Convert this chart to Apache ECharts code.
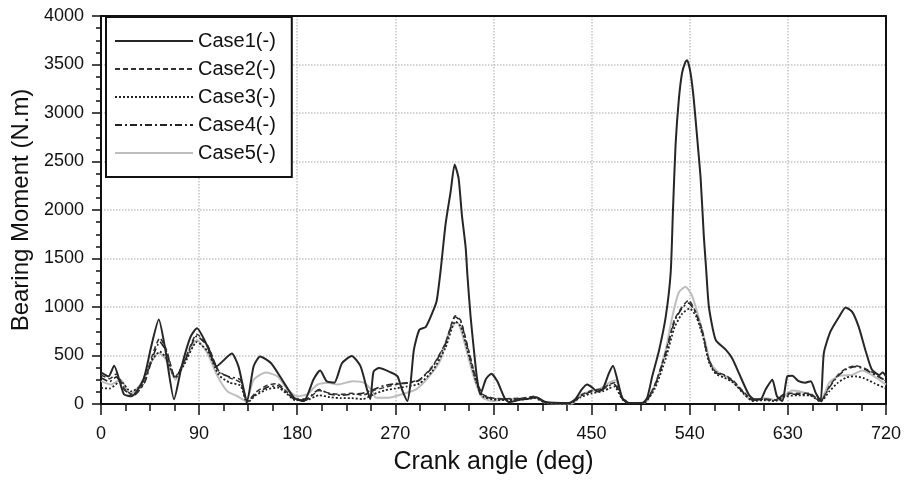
<!DOCTYPE html>
<html>
<head>
    <meta charset="utf-8">
    <title>Bearing Moment</title>
    <script src="https://cdn.jsdelivr.net/npm/echarts@6/dist/echarts.min.js"></script>
    <style>
        html, body { margin: 0; padding: 0; background: #fff; }
        #chart { width: 904px; height: 480px; }
    </style>
</head>
<body>
<div id="chart"></div>
<script>
    // [crank angle (deg), bearing moment (N.m)]
    var case1 = [[0,327],[7,285],[12,395],[21,100],[28,80],[39,255],[46,590],[53,870],[59,560],[67,50],[74,390],[82,690],[88,780],[97,610],[106,390],[120,520],[126,390],[134,30],[140,390],[146,490],[156,420],[165,270],[177,65],[186,30],[195,255],[201,345],[207,235],[214,220],[221,420],[230,495],[238,390],[244,150],[247,50],[250,335],[255,370],[266,325],[272,285],[276,150],[281,30],[284,220],[287,560],[292,765],[298,795],[305,970],[308,1070],[311.5,1375],[316,1850],[320.7,2190],[324.4,2470],[328,2325],[331,1950],[334.5,1610],[336,1340],[339,900],[342,560],[345,255],[348,100],[353,255],[358,313],[363.5,235],[370,65],[374,20],[385,45],[392,55],[399,70],[408,20],[429,10],[435,50],[441,150],[446,200],[450.6,170],[455,130],[460,150],[466,320],[469.6,395],[473.6,250],[478,65],[483,10],[496.5,10],[501,65],[505.6,285],[512,560],[518,900],[522.5,1350],[524.6,1990],[527,2670],[530,3140],[533,3415],[536,3525],[537.6,3545],[540.7,3415],[543.7,3140],[546.9,2735],[550,2325],[553,1715],[555,1400],[557.6,1000],[563.8,660],[573,560],[579,470],[585,320],[594,100],[599,50],[605,50],[609.6,150],[615.7,250],[620,80],[625,30],[629.5,285],[634,290],[640,235],[646,220],[651,235],[655.5,115],[660,30],[663,525],[669,745],[677,900],[683,995],[689,950],[695,795],[701,560],[707,355],[714,300],[717,325],[720,285]];
    var case2 = [[0,300],[8,260],[14,310],[22,150],[30,90],[40,230],[47,500],[54,680],[60,560],[68,280],[76,430],[88,720],[98,600],[108,340],[118,270],[128,220],[134,20],[142,120],[152,190],[162,210],[170,130],[178,50],[188,40],[200,140],[210,110],[220,100],[230,110],[240,90],[250,140],[260,170],[270,200],[280,220],[292,250],[304,390],[316,630],[325,910],[330,860],[337,560],[344,260],[350,100],[360,60],[372,55],[385,60],[398,80],[408,15],[430,10],[440,90],[450,140],[460,160],[466,200],[471,220],[478,70],[485,10],[498,15],[508,200],[518,540],[526,870],[533,1000],[539,1070],[545,960],[551,780],[557,480],[563,340],[572,300],[580,240],[590,120],[598,40],[608,50],[618,40],[628,110],[640,110],[650,110],[660,30],[668,180],[676,300],[684,370],[692,395],[700,370],[710,310],[720,235]];
    var case3 = [[0,165],[8,160],[18,235],[27,130],[36,180],[47,455],[54,540],[60,470],[68,270],[76,400],[88,640],[98,540],[108,300],[118,220],[128,190],[134,10],[142,90],[152,150],[162,170],[170,110],[178,40],[188,40],[200,90],[210,70],[220,60],[230,60],[240,50],[250,100],[260,140],[270,160],[280,180],[292,210],[304,340],[316,580],[325,850],[330,800],[337,520],[344,230],[350,80],[360,45],[372,40],[385,45],[398,60],[408,10],[430,5],[440,70],[450,110],[460,130],[466,160],[471,180],[478,50],[485,5],[498,10],[508,160],[518,470],[526,790],[533,930],[540,985],[546,900],[552,700],[558,420],[564,310],[572,270],[580,220],[590,100],[598,30],[608,40],[618,30],[628,80],[640,90],[650,90],[660,25],[668,130],[676,220],[684,275],[692,285],[700,265],[710,210],[720,160]];
    var case4 = [[0,270],[8,230],[14,280],[22,140],[30,90],[40,220],[47,470],[54,640],[60,540],[68,270],[76,420],[88,700],[98,590],[108,330],[118,280],[128,250],[134,30],[142,100],[152,170],[162,190],[170,120],[178,50],[188,50],[200,150],[210,100],[220,90],[230,100],[240,110],[250,150],[260,190],[270,210],[280,215],[292,245],[304,380],[316,620],[325,900],[330,850],[337,550],[344,250],[350,90],[360,55],[372,50],[385,55],[398,70],[408,15],[430,10],[440,80],[450,130],[460,150],[466,190],[471,200],[478,60],[485,10],[498,15],[508,190],[518,520],[526,850],[533,990],[539,1040],[545,950],[551,760],[557,470],[563,330],[572,290],[580,230],[590,110],[598,40],[608,50],[618,40],[628,100],[640,100],[650,100],[660,30],[668,170],[676,290],[684,360],[692,385],[700,360],[710,300],[720,240]];
    var case5 = [[0,235],[9,200],[18,250],[27,100],[36,200],[45.5,420],[53,525],[59,470],[68.5,250],[76,420],[88,660],[97.5,525],[107,285],[116,130],[125,80],[133,30],[140,250],[151,325],[162,285],[171,150],[180,80],[189,100],[198.5,200],[207.6,220],[217,200],[230.5,235],[241,220],[249,130],[252,65],[264,65],[276,100],[289,150],[301,285],[311.5,455],[317.6,695],[324,830],[327,840],[331,730],[337.5,455],[343.6,220],[350,65],[359,30],[374,50],[389.5,50],[399,65],[408,10],[432,5],[441,100],[449,130],[457,150],[466,220],[472,245],[478,65],[484,10],[499,15],[509,220],[518,560],[524,900],[530,1150],[536,1210],[542,1120],[548,900],[554.6,625],[559,420],[567,320],[576,270],[585,165],[597,40],[609,60],[621,40],[634,140],[646,115],[660,40],[668,220],[677,290],[689,300],[698,345],[707,300],[720,200]];

    var names = ['Case1(-)', 'Case2(-)', 'Case3(-)', 'Case4(-)', 'Case5(-)'];

    var chart = echarts.init(document.getElementById('chart'));

    function makeSeries(name, data, color, width, type, z) {
        return {
            name: name,
            type: 'line',
            data: data,
            symbol: 'none',
            smooth: 0.2,
            z: z,
            lineStyle: { color: color, width: width, type: type },
            itemStyle: { color: color }
        };
    }

    var font = 'Liberation Sans, Arial, sans-serif';
    var gridLine = { show: true, lineStyle: { color: '#c4c4c4', type: 'dotted', width: 1.5 } };

    chart.setOption({
        animation: false,
        backgroundColor: '#fff',
        grid: { left: 101, right: 17, top: 16, bottom: 72 },
        legend: {
            orient: 'vertical',
            left: 106, top: 17,
            data: names,
            itemWidth: 78, itemHeight: 14, itemGap: 8,
            padding: [14, 16, 14, 8],
            borderColor: '#111', borderWidth: 2,
            backgroundColor: '#fff',
            itemStyle: { opacity: 0 },
            textStyle: { fontFamily: font, fontSize: 20, color: '#111' }
        },
        xAxis: [{
            type: 'value', min: 0, max: 720, interval: 90,
            name: 'Crank angle (deg)', nameLocation: 'middle', nameGap: 46,
            nameTextStyle: { fontFamily: font, fontSize: 25, color: '#111' },
            axisLine: { onZero: false, lineStyle: { color: '#111', width: 2 } },
            axisTick: { length: 11, lineStyle: { color: '#111', width: 1.5 } },
            minorTick: { show: true, splitNumber: 4, length: 7, lineStyle: { color: '#111', width: 1.5 } },
            axisLabel: { fontFamily: font, fontSize: 18, color: '#111', margin: 21 },
            splitLine: gridLine
        }, {
            // top frame line
            type: 'value', position: 'top', min: 0, max: 720, interval: 90,
            axisLine: { show: true, onZero: false, lineStyle: { color: '#111', width: 2 } },
            axisTick: { show: false }, axisLabel: { show: false }, splitLine: { show: false }
        }],
        yAxis: [{
            type: 'value', min: 0, max: 4000, interval: 500,
            name: 'Bearing Moment (N.m)', nameLocation: 'middle', nameGap: 64,
            nameTextStyle: { fontFamily: font, fontSize: 24, color: '#111' },
            axisLine: { show: true, onZero: false, lineStyle: { color: '#111', width: 2 } },
            axisTick: { show: true, length: 9, lineStyle: { color: '#111', width: 1.5 } },
            minorTick: { show: true, splitNumber: 4, length: 5, lineStyle: { color: '#111', width: 1.5 } },
            axisLabel: {
                fontFamily: font, fontSize: 18, color: '#111', margin: 17,
                formatter: function (v) { return String(v); }
            },
            splitLine: gridLine
        }, {
            // right frame line
            type: 'value', position: 'right', min: 0, max: 4000, interval: 500,
            axisLine: { show: true, onZero: false, lineStyle: { color: '#111', width: 2 } },
            axisTick: { show: false }, axisLabel: { show: false }, splitLine: { show: false }
        }],
        series: [
            makeSeries(names[4], case5, '#bdbdbd', 2, 'solid', 1),
            makeSeries(names[2], case3, '#222', 1.8, [2, 2], 2),
            makeSeries(names[3], case4, '#222', 1.6, [7, 3, 2, 3], 3),
            makeSeries(names[1], case2, '#333', 1.5, [5, 3], 4),
            makeSeries(names[0], case1, '#262626', 2, 'solid', 5)
        ]
    });
</script>
</body>
</html>
